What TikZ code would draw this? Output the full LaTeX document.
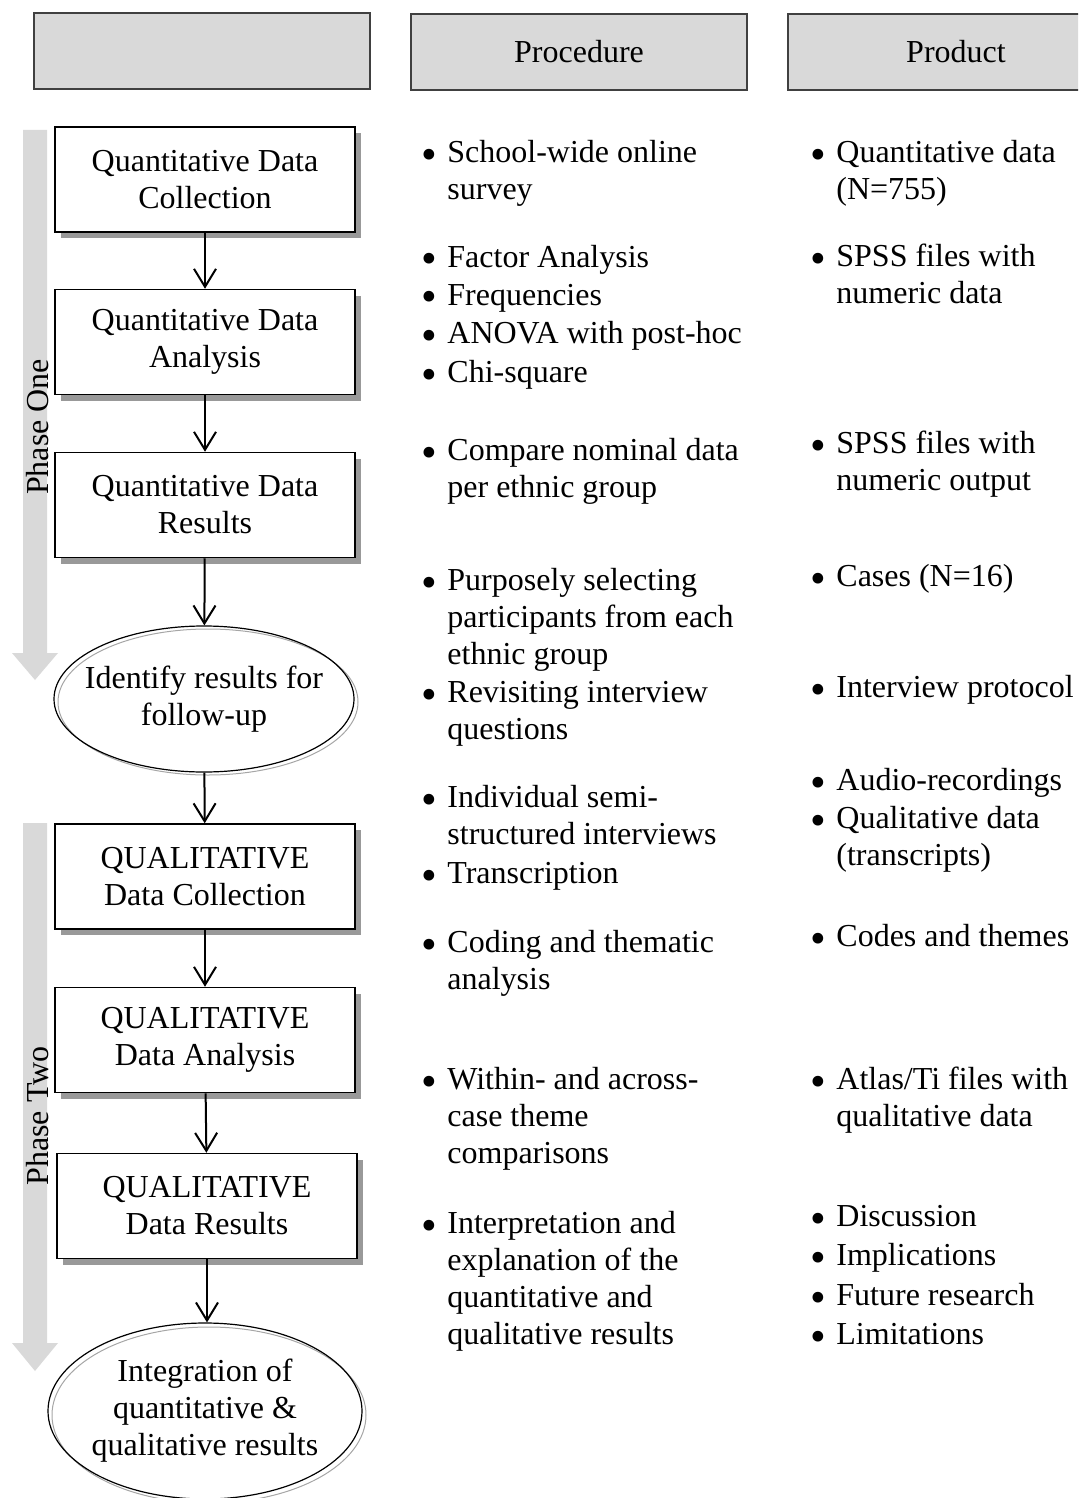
\documentclass[tikz,border=0pt]{standalone}
\usepackage{fontspec}
\setmainfont{Liberation Serif}
\usetikzlibrary{calc}
\usetikzlibrary{shapes.geometric, shadows, arrows.meta}

\newcommand{\bul}{\llap{\raisebox{-3.5pt}{\scalebox{1.4}{\textbullet}}\hspace{5pt}}}
\newcommand{\blist}[1]{\begin{tabular}[t]{@{}l@{}}\bul #1\end{tabular}}

\begin{document}
\begin{tikzpicture}[x=0.5pt, y=0.5pt,
  >={Straight Barb[length=9pt, width=11pt]},
  every node/.style={font=\fontsize{16}{18.5}\selectfont},
  head/.style={draw=black!75, fill=gray!30, line width=0.75pt, minimum width=168pt, minimum height=38pt},
  stage/.style={draw, fill=white, line width=0.75pt, minimum width=150pt, minimum height=52.5pt, align=center,
    drop shadow={shadow xshift=3pt, shadow yshift=-3pt, fill=black!40, opacity=1}},
  goal/.style={ellipse, draw, line width=0.6pt, inner sep=-8pt, align=center},
  item/.style={anchor=base west, inner sep=0pt},
  flow/.style={->, line width=1pt}]

\useasboundingbox (0,0) rectangle (1078,-1498);
\clip (0,0) rectangle (1078,-1498);

% column heads
\node[head] (h1) at (202,-51) {};
\node[head] (h2) at (579,-52) {Procedure};
\node[head] (h3) at (956,-52) {Product};

% phase arrows
\fill[gray!30] (23,-130) -- (47,-130) -- (47,-653) -- (58,-653) -- (35,-680) -- (12,-653) -- (23,-653) -- cycle;
\fill[gray!30] (23,-823) -- (47,-823) -- (47,-1343) -- (58,-1343) -- (35,-1371) -- (12,-1343) -- (23,-1343) -- cycle;
\node[rotate=90, anchor=base, inner sep=0pt] (ph1) at (48,-427) {Phase One};
\node[rotate=90, anchor=base, inner sep=0pt] (ph2) at (48,-1116) {Phase Two};

% stages
\node[stage] (box1) at (205,-179.5) {Quantitative Data\\Collection};
\node[stage] (box2) at (205,-342) {Quantitative Data\\Analysis};
\node[stage] (box3) at (205,-505) {Quantitative Data\\Results};

\draw[gray!70, line width=0.5pt] (208,-702) ellipse [x radius=150, y radius=73];
\node[goal, minimum width=150pt, minimum height=73pt] (ell1) at (204,-699) {Identify results for\\follow-up};

\node[stage] (box4) at (205,-876.5) {QUALITATIVE\\Data Collection};
\node[stage] (box5) at (205,-1040) {QUALITATIVE\\Data Analysis};
\node[stage] (box6) at (207,-1206) {QUALITATIVE\\Data Results};

\draw[gray!70, line width=0.5pt] (209,-1415) ellipse [x radius=157, y radius=88];
\node[goal, minimum width=157pt, minimum height=88pt] (ell2) at (205,-1411) {Integration of\\quantitative \&\\qualitative results};

\draw[flow] (box1) -- (box2);
\draw[flow] (box2) -- (box3);
\draw[flow] (box3) -- (ell1);
\draw[flow] (ell1) -- (box4);
\draw[flow] (box4) -- (box5);
\draw[flow] (box5) -- (box6);
\draw[flow] (box6.south) -- (box6.south |- ell2.north);

% procedure
\node[item] (p1) at (447,-163) {\blist{School-wide online\\survey}};
\node[item] (p2) at (447,-267) {\blist{Factor Analysis}};
\node[item] (p3) at (447,-305) {\blist{Frequencies}};
\node[item] (p4) at (447,-343) {\blist{ANOVA with post-hoc}};
\node[item] (p5) at (447,-382) {\blist{Chi-square}};
\node[item] (p6) at (447,-460) {\blist{Compare nominal data\\per ethnic group}};
\node[item] (p7) at (447,-590) {\blist{Purposely selecting\\participants from each\\ethnic group}};
\node[item] (p8) at (447,-702) {\blist{Revisiting interview\\questions}};
\node[item] (p9) at (447,-807) {\blist{Individual semi-\\structured interviews}};
\node[item] (p10) at (447,-883) {\blist{Transcription}};
\node[item] (p11) at (447,-952) {\blist{Coding and thematic\\analysis}};
\node[item] (p12) at (447,-1089) {\blist{Within- and across-\\case theme\\comparisons}};
\node[item] (p13) at (447,-1233) {\blist{Interpretation and\\explanation of the\\quantitative and\\qualitative results}};

% product
\node[item] (r1) at (836,-163) {\blist{Quantitative data\\(N=755)}};
\node[item] (r2) at (836,-266) {\blist{SPSS files with\\numeric data}};
\node[item] (r3) at (836,-453) {\blist{SPSS files with\\numeric output}};
\node[item] (r4) at (836,-586) {\blist{Cases (N=16)}};
\node[item] (r5) at (836,-697) {\blist{Interview protocol}};
\node[item] (r6) at (836,-790) {\blist{Audio-recordings}};
\node[item] (r7) at (836,-828) {\blist{Qualitative data\\(transcripts)}};
\node[item] (r8) at (836,-946) {\blist{Codes and themes}};
\node[item] (r9) at (836,-1089) {\blist{Atlas/Ti files with\\qualitative data}};
\node[item] (r10) at (836,-1226) {\blist{Discussion}};
\node[item] (r11) at (836,-1265) {\blist{Implications}};
\node[item] (r12) at (836,-1305) {\blist{Future research}};
\node[item] (r13) at (836,-1344) {\blist{Limitations}};

\end{tikzpicture}
\end{document}
